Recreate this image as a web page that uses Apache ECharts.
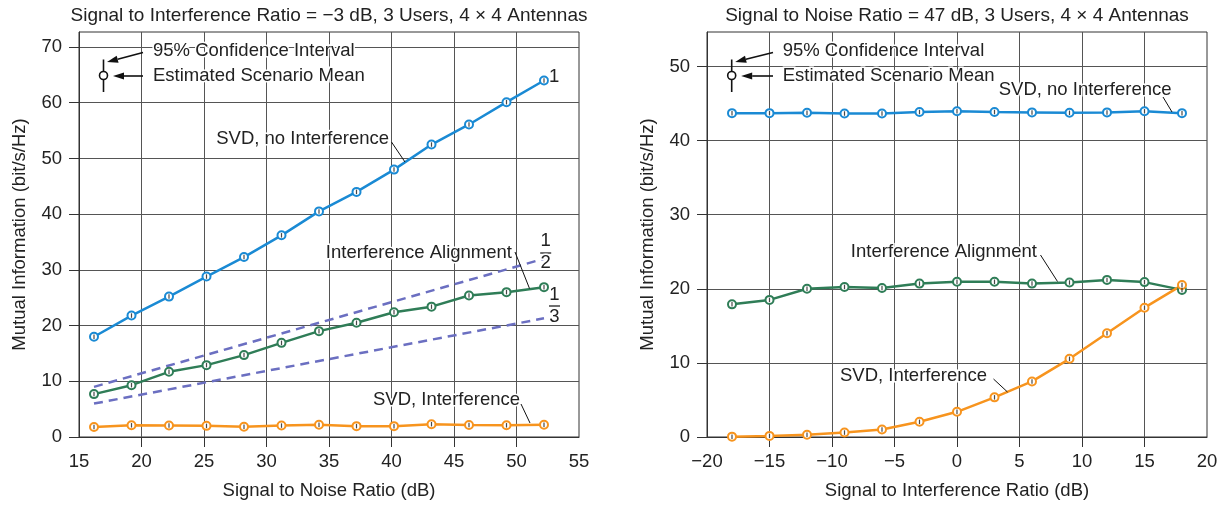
<!DOCTYPE html>
<html><head><meta charset="utf-8">
<script src="https://cdn.jsdelivr.net/npm/echarts@6/dist/echarts.min.js"></script>
<style>html,body{margin:0;padding:0;background:#fff}#c{width:1225px;height:507px}</style>
</head><body><div id="c"></div>
<script>
// ---------- data ----------
const snrX = [16.2, 19.2, 22.2, 25.2, 28.2, 31.2, 34.2, 37.2, 40.2, 43.2, 46.2, 49.2, 52.2];
const leftSvdNoInt = [18.0, 21.8, 25.2, 28.8, 32.3, 36.2, 40.5, 44.0, 48.0, 52.5, 56.1, 60.1, 64.0];
const leftIA = [7.7, 9.3, 11.7, 12.9, 14.7, 16.9, 19.0, 20.5, 22.4, 23.4, 25.4, 26.0, 26.9];
const leftSvdInt = [1.8, 2.1, 2.05, 2.0, 1.85, 2.05, 2.2, 1.95, 1.95, 2.3, 2.15, 2.1, 2.2];
const refHalfX = [16.2, 52.2];
const refHalf = [9.0, 32.0];
const refThirdX = [16.2, 52.2];
const refThird = [6.0, 21.3];

const sirX = [-18, -15, -12, -9, -6, -3, 0, 3, 6, 9, 12, 15, 18];
const rightSvdNoInt = [43.7, 43.7, 43.75, 43.65, 43.65, 43.85, 43.95, 43.85, 43.8, 43.75, 43.8, 43.95, 43.7];
const rightIA = [17.9, 18.5, 20.0, 20.25, 20.1, 20.7, 20.95, 20.95, 20.7, 20.85, 21.2, 20.9, 19.85];
const rightSvdInt = [0.05, 0.15, 0.3, 0.6, 1.0, 2.05, 3.4, 5.35, 7.5, 10.55, 14.0, 17.45, 20.5];

const leftXLabels = [15, 20, 25, 30, 35, 40, 45, 50, 55];
const leftXTicks = [20, 25, 30, 35, 40, 45, 50];
const leftYLabels = [0, 10, 20, 30, 40, 50, 60, 70];
const rightXLabels = [-20, -15, -10, -5, 0, 5, 10, 15, 20];
const rightXTicks = [-15, -10, -5, 0, 5, 10, 15];
const rightYLabels = [0, 10, 20, 30, 40, 50];

const titleLeft = 'Signal to Interference Ratio = \u22123 dB, 3 Users, 4 \u00d7 4 Antennas';
const titleRight = 'Signal to Noise Ratio = 47 dB, 3 Users, 4 \u00d7 4 Antennas';
const xNameLeft = 'Signal to Noise Ratio (dB)';
const xNameRight = 'Signal to Interference Ratio (dB)';
const yName = 'Mutual Information (bit/s/Hz)';

// ---------- style ----------
const FONT = '"Liberation Sans", Arial, Helvetica, sans-serif';
const FS = 18.5;
const TXT = '#222';
const GRIDC = '#555';
const BLUE = '#1a8ad4', GREEN = '#2f7d57', ORANGE = '#f7941e', DASH = '#6b6fc1';

const chart = echarts.init(document.getElementById('c'), null, {renderer: 'canvas'});

function pairs(xs, ys) { return xs.map((x, i) => [x, ys[i]]); }
const fmt = v => (v < 0 ? '\u2212' + Math.abs(v) : String(v));

function xAxis(gi, min, max, labels, ticks, name) {
  return {
    type: 'value', gridIndex: gi, min, max, interval: 5,
    name, nameLocation: 'middle', nameGap: 44,
    nameTextStyle: {fontFamily: FONT, fontSize: FS, color: TXT},
    axisLine: {show: true, onZero: false, lineStyle: {color: '#333', width: 1}},
    axisTick: {show: true, inside: false, length: 10, customValues: ticks, lineStyle: {color: '#333', width: 1}},
    axisLabel: {customValues: labels, formatter: fmt, margin: 15, fontFamily: FONT, fontSize: FS, color: TXT},
    splitLine: {show: true, lineStyle: {color: GRIDC, width: 1}}
  };
}
function yAxis(gi, max, labels) {
  return {
    type: 'value', gridIndex: gi, min: 0, max, interval: 10,
    name: yName, nameLocation: 'middle', nameGap: 50,
    nameTextStyle: {fontFamily: FONT, fontSize: FS, color: TXT},
    axisLine: {show: true, onZero: false, lineStyle: {color: '#333', width: 1}},
    axisTick: {show: true, inside: false, length: 10, customValues: labels, lineStyle: {color: '#333', width: 1}},
    axisLabel: {customValues: labels, margin: 17, fontFamily: FONT, fontSize: FS, color: TXT},
    splitLine: {show: true, lineStyle: {color: GRIDC, width: 1}}
  };
}
function lineWithBars(gi, xs, ys, color) {
  const d = pairs(xs, ys);
  return [
    {type: 'line', xAxisIndex: gi, yAxisIndex: gi, data: d, symbol: 'emptyCircle', symbolSize: 8,
     lineStyle: {color, width: 2.5}, itemStyle: {color, borderColor: color, borderWidth: 2}, z: 3},
    {type: 'scatter', xAxisIndex: gi, yAxisIndex: gi, data: d, symbol: 'rect', symbolSize: [1.2, 4.5],
     itemStyle: {color: '#1a1a1a'}, z: 4, silent: true}
  ];
}
function dashed(gi, xs, ys) {
  return {type: 'line', xAxisIndex: gi, yAxisIndex: gi, data: pairs(xs, ys), symbol: 'none',
    lineStyle: {color: DASH, width: 2.5, type: [9, 6]}, z: 2};
}

// ---------- annotation graphics ----------
const G = [];
function text(t, x, y, align, size) {
  G.push({type: 'text', z: 50, style: {text: t, x, y, textAlign: align || 'left', textVerticalAlign: 'middle',
    font: (size || FS) + 'px ' + FONT, fill: TXT, stroke: '#fff', lineWidth: 3, strokeFirst: true}});
}
function seg(x1, y1, x2, y2, w) {
  G.push({type: 'line', z: 50, shape: {x1, y1, x2, y2}, style: {stroke: '#111', lineWidth: w || 1}});
}
function arrow(x1, y1, x2, y2) {
  const dx = x2 - x1, dy = y2 - y1, L = Math.hypot(dx, dy), ux = dx / L, uy = dy / L;
  const hl = 11, hw = 3.6;
  const bx = x2 - ux * hl, by = y2 - uy * hl;
  seg(x1, y1, bx, by, 1.6);
  G.push({type: 'polygon', z: 50, shape: {points: [[x2, y2], [bx - uy * hw, by + ux * hw], [bx + uy * hw, by - ux * hw]]},
    style: {fill: '#111'}});
}
function legendGlyph(cx, tx, arrowFrom) {
  seg(cx, 59.5, cx, 92, 1.6);
  G.push({type: 'circle', z: 51, shape: {cx, cy: 75.5, r: 4}, style: {fill: '#fff', stroke: '#111', lineWidth: 1.6}});
  arrow(arrowFrom, 52.5, cx + 3.5, 62);
  arrow(arrowFrom, 76, cx + 9.5, 76);
  text('95% Confidence Interval', tx, 50.5, 'left');
  text('Estimated Scenario Mean', tx, 75.5, 'left');
}
function fraction(num, den, cx, yNum, yBar, yDen) {
  text(num, cx, yNum, 'center');
  seg(cx - 5.5, yBar, cx + 5.5, yBar, 1.2);
  text(den, cx, yDen, 'center');
}

// titles
text(titleLeft, 329, 16, 'center', 19);
text(titleRight, 957, 16, 'center', 19);
// left legend + labels
legendGlyph(103.5, 153, 143);
text('1', 549, 77, 'left');
text('SVD, no Interference', 389, 139, 'right');
seg(391.5, 142, 405, 162);
text('Interference Alignment', 512, 252.5, 'right');
seg(515, 252, 529.5, 288.5);
fraction('1', '2', 545.7, 241, 253, 263);
fraction('1', '3', 554.5, 295, 306, 317);
text('SVD, Interference', 520, 400, 'right');
seg(521, 404, 530, 423);
// right legend + labels
legendGlyph(731.7, 782.7, 773);
text('SVD, no Interference', 1171.5, 90, 'right');
seg(1163, 97, 1172, 112);
text('Interference Alignment', 1037, 252, 'right');
seg(1040.5, 255, 1057.5, 281.5);
text('SVD, Interference', 987, 375.5, 'right');
seg(993.5, 379, 1007.5, 392);

const gridBox = {show: true, borderColor: '#333', borderWidth: 1, backgroundColor: 'transparent', containLabel: false};

chart.setOption({
  animation: false,
  backgroundColor: '#fff',
  textStyle: {fontFamily: FONT},
  grid: [
    Object.assign({left: 79, top: 32, width: 500, height: 405}, gridBox),
    Object.assign({left: 707, top: 32, width: 500, height: 405}, gridBox)
  ],
  xAxis: [
    xAxis(0, 15, 55, leftXLabels, leftXTicks, xNameLeft),
    xAxis(1, -20, 20, rightXLabels, rightXTicks, xNameRight)
  ],
  yAxis: [
    yAxis(0, 72.7, leftYLabels),
    yAxis(1, 54.65, rightYLabels)
  ],
  series: [
    dashed(0, refHalfX, refHalf),
    dashed(0, refThirdX, refThird),
    ...lineWithBars(0, snrX, leftSvdNoInt, BLUE),
    ...lineWithBars(0, snrX, leftIA, GREEN),
    ...lineWithBars(0, snrX, leftSvdInt, ORANGE),
    ...lineWithBars(1, sirX, rightSvdNoInt, BLUE),
    ...lineWithBars(1, sirX, rightIA, GREEN),
    ...lineWithBars(1, sirX, rightSvdInt, ORANGE)
  ],
  graphic: G
});
</script>
</body></html>
